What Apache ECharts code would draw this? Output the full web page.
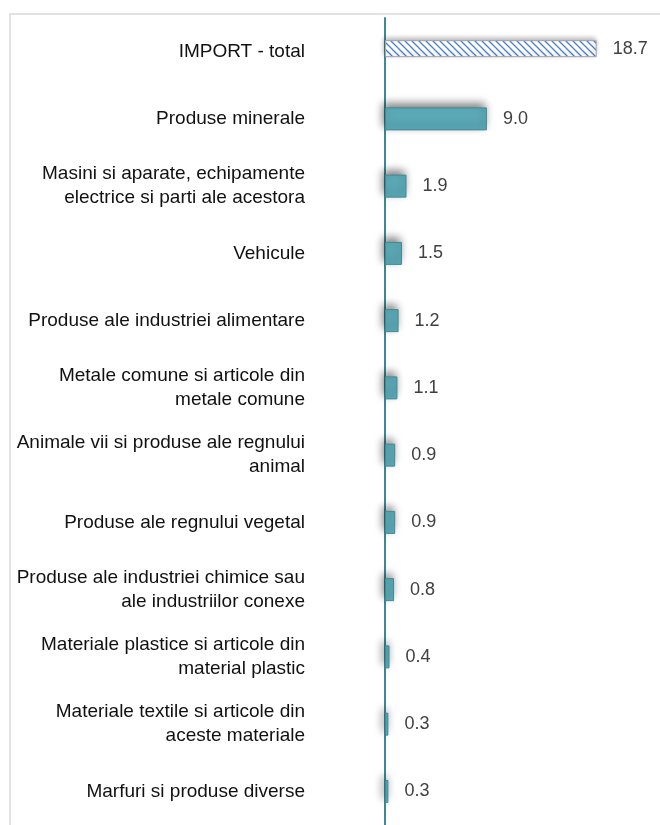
<!DOCTYPE html>
<html><head><meta charset="utf-8">
<script src="https://cdn.jsdelivr.net/npm/echarts@6/dist/echarts.min.js"></script>
<style>html,body{margin:0;padding:0;background:#fff}#c{width:660px;height:825px}</style>
</head><body><div id="c"></div>
<script>
const categories = [
  "IMPORT - total",
  "Produse minerale",
  "Masini si aparate, echipamente\nelectrice si parti ale acestora",
  "Vehicule",
  "Produse ale industriei alimentare",
  "Metale comune si articole din\nmetale comune",
  "Animale vii si produse ale regnului\nanimal",
  "Produse ale regnului vegetal",
  "Produse ale industriei chimice sau\nale industriilor conexe",
  "Materiale plastice si articole din\nmaterial plastic",
  "Materiale textile si articole din\naceste materiale",
  "Marfuri si produse diverse"
];
const totalValue = [18.7];
const groupValues = [9.0, 1.9, 1.5, 1.2, 1.1, 0.9, 0.9, 0.8, 0.4, 0.3, 0.3];

// hatch pattern
const P = 7;
const pc = document.createElement('canvas');
pc.width = P; pc.height = P;
const g = pc.getContext('2d');
g.fillStyle = '#ffffff'; g.fillRect(0,0,P,P);
g.strokeStyle = '#4a7fd9'; g.lineWidth = 1.3;
g.beginPath();
g.moveTo(-1,-1); g.lineTo(P+1,P+1);
g.moveTo(-P,0); g.lineTo(P,2*P);
g.moveTo(0,-P); g.lineTo(2*P,P);
g.stroke();

const chart = echarts.init(document.getElementById('c'), null, {renderer:'canvas'});
const totalData = categories.map((c,i)=> i===0 ? totalValue[0] : null);
const groupData = categories.map((c,i)=> i===0 ? null : groupValues[i-1]);
const labelStyle = {show:true, position:'right', distance:16, color:'#404040', fontSize:18,
  fontFamily:'"Liberation Sans", Arial, sans-serif', formatter: p => p.value.toFixed(1)};
chart.setOption({
  animation:false,
  graphic:[{type:'rect', shape:{x:10,y:14,width:700,height:900},
    style:{fill:'none', stroke:'#d9d9d9', lineWidth:1.5}, z:-1}],
  grid:{left:385, right:48.6, top:18, bottom:-4, containLabel:false},
  xAxis:{type:'value', min:0, max:20, show:false},
  yAxis:{type:'category', data:categories, inverse:true,
    axisLine:{show:true, lineStyle:{color:'#3d8a97', width:2}},
    axisTick:{show:false}, splitLine:{show:false},
    axisLabel:{margin:80, color:'#111111', fontSize:19, lineHeight:24, padding:[3,0,0,0],
      fontFamily:'"Liberation Sans", Arial, sans-serif', align:'right'}},
  series:[
    {type:'bar', data:totalData, barWidth:17, barGap:'-100%', z:3,
      itemStyle:{color:{image:pc, repeat:'repeat'}, borderColor:'#a6a6a6', borderWidth:1,
        shadowColor:'rgba(0,0,0,0.3)', shadowBlur:5, shadowOffsetX:-1, shadowOffsetY:-2},
      label:labelStyle},
    {type:'bar', data:groupData, barWidth:23, barGap:'-100%', z:3,
      itemStyle:{color:'#5caab7', borderColor:'#3f8a97', borderWidth:1,
        shadowColor:'rgba(0,0,0,0.5)', shadowBlur:8, shadowOffsetX:-2, shadowOffsetY:-4},
      label:labelStyle}
  ]
});
</script></body></html>
